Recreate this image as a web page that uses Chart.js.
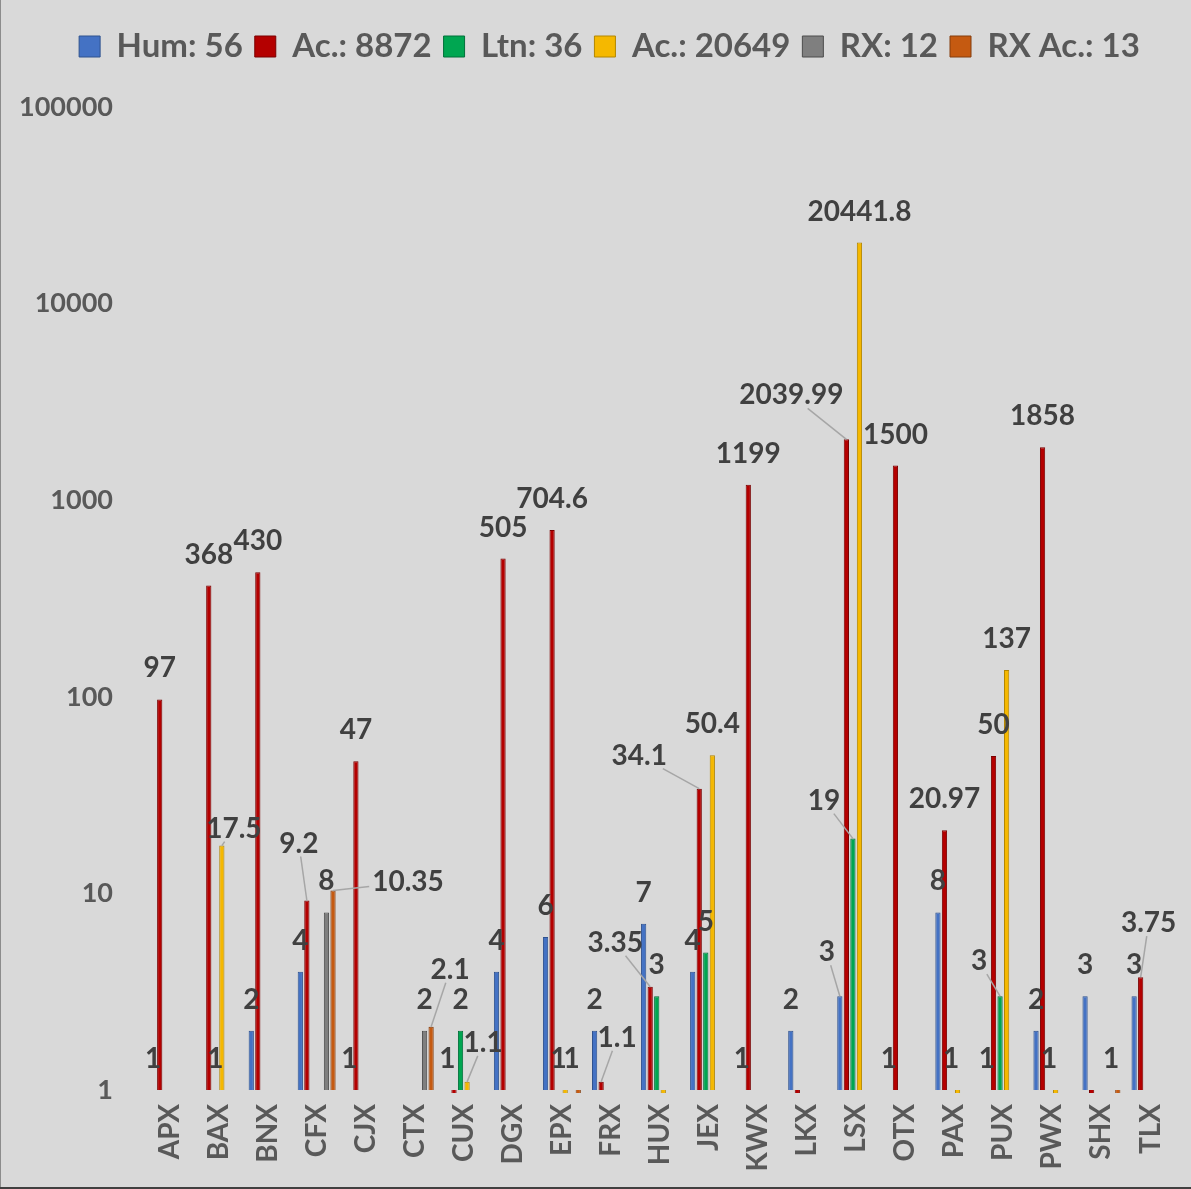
<!DOCTYPE html>
<html>
<head>
<meta charset="utf-8">
<script src="https://cdn.jsdelivr.net/npm/chart.js@4.4.1/dist/chart.umd.min.js"></script>
<style>
  body { margin: 0; background: #d9d9d9; }
  #wrap { width: 1191px; height: 1189px; }
</style>
</head>
<body>
<div id="wrap"><canvas id="chart" width="1191" height="1189"></canvas></div>
<script>
// datos
const categories = ['APX', 'BAX', 'BNX', 'CFX', 'CJX', 'CTX', 'CUX', 'DGX', 'EPX', 'FRX', 'HUX',
                    'JEX', 'KWX', 'LKX', 'LSX', 'OTX', 'PAX', 'PUX', 'PWX', 'SHX', 'TLX'];
const hum  = [1, null, 2, 4, 1, null, 1, 4, 6, 2, 7, 4, 1, 2, 3, 1, 8, 1, 2, 3, 3];
const ac   = [97, 368, 430, 9.2, 47, null, 0.3, 505, 704.6, 1.1, 3.35, 34.1, 1199, 0.3, 2039.99, 1500, 20.97, 50, 1858, 0.3, 3.75];
const ltn  = [null, 1, null, null, null, null, 2, null, 1, null, 3, 5, null, null, 19, null, 1, 3, 1, null, null];
const ac2  = [null, 17.5, null, null, null, null, 1.1, null, 0.3, null, 0.3, 50.4, null, null, 20441.8, null, 0.3, 137, 0.3, null, null];
const rx   = [null, null, null, 8, null, 2, null, null, 1, null, null, null, null, null, null, null, null, null, null, 1, null];
const rxAc = [null, null, null, 10.35, null, 2.1, null, null, 0.3, null, null, null, null, null, null, null, null, null, null, 0.3, null];
const seriesLabels = ['Hum: 56', 'Ac.: 8872', 'Ltn: 36', 'Ac.: 20649', 'RX: 12', 'RX Ac.: 13'];
const yTicks = [1, 10, 100, 1000, 10000, 100000];

// etiquetas desplazadas con linea guia (dx, dy en px)
const labelOffsets = {
    'ac2:BAX': [12, 14],
    'ac:CFX': [-8, -26],
    'rxac:CFX': [75, 23],
    'rxac:CTX': [19, -26],
    'ac2:CUX': [16, -8],
    'ac:FRX': [16, -13],
    'ac:HUX': [-35, -13],
    'ac:JEX': [-60, -2],
    'hum:LSX': [-13, -13],
    'ac:LSX': [-55, -13],
    'ltn:LSX': [-29, -7],
    'ltn:PUX': [-21, -4],
    'ac:TLX': [8, -23]
};

const FONT = 'Lato';

function serie(key, label, data, fill, edge) {
    return {
        key: key,
        label: label,
        data: data,
        backgroundColor: fill,
        borderColor: edge,
        borderWidth: 1,
        categoryPercentage: 0.8,
        barPercentage: 0.8,
        clip: { left: 0, top: 0, right: 0, bottom: 3 }
    };
}

const background = {
    id: 'background',
    beforeDraw(chart) {
        const ctx = chart.ctx;
        ctx.save();
        ctx.fillStyle = '#d9d9d9';
        ctx.fillRect(0, 0, chart.width, chart.height);
        ctx.restore();
    },
    afterDraw(chart) {
        const ctx = chart.ctx;
        ctx.save();
        ctx.fillStyle = '#8c8c8c';
        ctx.fillRect(0, 0, 1, chart.height);
        ctx.fillStyle = '#404040';
        ctx.fillRect(0, chart.height - 2, chart.width, 2);
        ctx.restore();
    }
};

// alto fijo de la leyenda y corrimiento a la derecha
const legendHeight = {
    id: 'legendHeight',
    beforeLayout(chart) {
        const lg = chart.legend;
        if (lg && !lg._patched) {
            const fit = lg.fit;
            lg.fit = function () { fit.call(this); this.height = 89; };
            lg._patched = true;
        }
    },
    afterLayout(chart) {
        const lg = chart.legend;
        lg.left += 22;
        lg.right += 22;
    }
};

const valueLabels = {
    id: 'valueLabels',
    afterDatasetsDraw(chart) {
        const ctx = chart.ctx;
        ctx.save();
        ctx.font = 'bold 28px ' + FONT;
        ctx.textAlign = 'center';
        ctx.textBaseline = 'middle';
        chart.data.datasets.forEach((ds, di) => {
            const meta = chart.getDatasetMeta(di);
            meta.data.forEach((bar, i) => {
                const v = ds.data[i];
                if (v == null || v < 1) return;
                const text = String(v);
                const off = labelOffsets[ds.key + ':' + categories[i]];
                const lx = bar.x + (off ? off[0] : 0);
                const ly = bar.y - 31 + (off ? off[1] : 0);
                if (off) {
                    const hw = ctx.measureText(text).width / 2 + 3;
                    const hh = 13;
                    const dx = bar.x - lx, dy = bar.y - ly;
                    const t = Math.min(dx ? hw / Math.abs(dx) : Infinity, dy ? hh / Math.abs(dy) : Infinity);
                    ctx.strokeStyle = '#a6a6a6';
                    ctx.lineWidth = 1.5;
                    ctx.beginPath();
                    ctx.moveTo(bar.x, bar.y);
                    ctx.lineTo(lx + dx * t, ly + dy * t);
                    ctx.stroke();
                }
                ctx.fillStyle = '#404040';
                ctx.fillText(text, lx, ly);
            });
        });
        ctx.restore();
    }
};

window.addEventListener('load', function () {
    const ctx = document.getElementById('chart').getContext('2d');
    new Chart(ctx, {
        type: 'bar',
        data: {
            labels: categories,
            datasets: [
                serie('hum', seriesLabels[0], hum, '#4472c4', '#2f528f'),
                serie('ac', seriesLabels[1], ac, '#b40000', '#7a0000'),
                serie('ltn', seriesLabels[2], ltn, '#00a651', '#00703a'),
                serie('ac2', seriesLabels[3], ac2, '#f5b800', '#b38600'),
                serie('rx', seriesLabels[4], rx, '#7f7f7f', '#4d4d4d'),
                serie('rxac', seriesLabels[5], rxAc, '#c55a11', '#843c0c')
            ]
        },
        options: {
            responsive: false,
            animation: false,
            layout: { padding: { top: 18, right: 16, left: 0, bottom: 0 } },
            plugins: {
                legend: {
                    position: 'top',
                    labels: {
                        color: '#595959',
                        font: { family: FONT, size: 33, weight: 'bold' },
                        boxWidth: 21,
                        boxHeight: 21,
                        padding: 12
                    }
                },
                tooltip: { enabled: false }
            },
            scales: {
                x: {
                    grid: { display: false, drawTicks: false },
                    border: { display: false },
                    ticks: {
                        color: '#595959',
                        font: { family: FONT, size: 28, weight: 'bold' },
                        minRotation: 90,
                        maxRotation: 90,
                        autoSkip: false,
                        padding: 14
                    },
                    afterFit(scale) {
                        scale.height = 99;
                        scale.paddingLeft = 0;
                        scale.paddingRight = 0;
                    }
                },
                y: {
                    type: 'logarithmic',
                    min: 1,
                    max: 100000,
                    grid: { display: false, drawTicks: false },
                    border: { display: false },
                    ticks: {
                        color: '#595959',
                        font: { family: FONT, size: 27, weight: 'bold' },
                        padding: 32,
                        callback: v => String(v)
                    },
                    afterBuildTicks(scale) { scale.ticks = yTicks.map(v => ({ value: v })); },
                    afterFit(scale) { scale.width = 145; }
                }
            }
        },
        plugins: [background, legendHeight, valueLabels]
    });
});
</script>
</body>
</html>
